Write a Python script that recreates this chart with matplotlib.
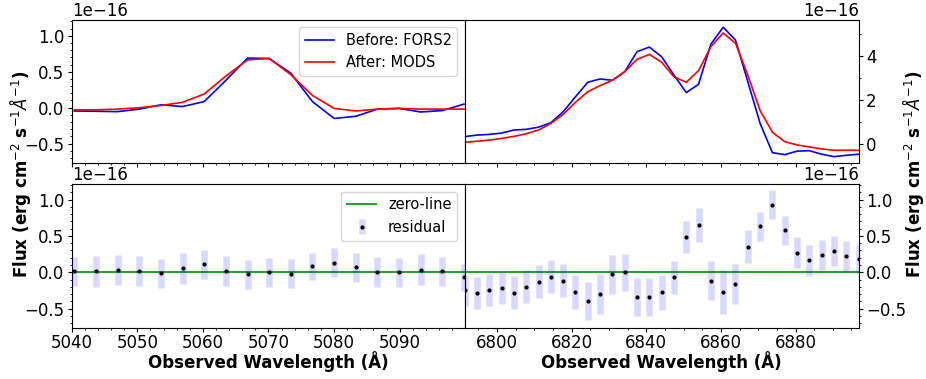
import numpy as np
import matplotlib.pyplot as plt
from matplotlib.ticker import MultipleLocator

SCALE = 1e-16

# wavelength grids (Angstrom)
wave_left = [5040.4, 5043.7, 5047.0, 5050.3, 5053.6, 5056.9, 5060.2, 5063.5,
             5066.8, 5070.1, 5073.4, 5076.7, 5080.0, 5083.3, 5086.6, 5089.9,
             5093.2, 5096.5, 5099.8]
wave_right = [6791.3, 6794.6, 6797.9, 6801.2, 6804.5, 6807.8, 6811.1, 6814.4,
              6817.7, 6821.0, 6824.3, 6827.6, 6830.9, 6834.2, 6837.5, 6840.8,
              6844.1, 6847.4, 6850.7, 6854.0, 6857.3, 6860.6, 6863.9, 6867.2,
              6870.5, 6873.8, 6877.1, 6880.4, 6883.7, 6887.0, 6890.3, 6893.6,
              6896.9]

# fluxes in units of 1e-16
fors2_left = [-0.046, -0.05, -0.055, -0.02, 0.04, 0.016, 0.085, 0.38, 0.69, 0.685,
              0.48, 0.085, -0.15, -0.12, -0.02, -0.01, -0.06, -0.04, 0.05]
mods_left = [-0.03, -0.03, -0.02, 0.0, 0.03, 0.075, 0.19, 0.44, 0.665, 0.685,
             0.46, 0.17, -0.01, -0.046, -0.02, -0.01, -0.02, -0.02, -0.02]

fors2_right = [0.35, 0.42, 0.45, 0.51, 0.65, 0.68, 0.78, 0.98, 1.48, 2.16, 2.82,
               2.97, 2.91, 3.30, 4.21, 4.42, 3.98, 3.15, 2.35, 2.73, 4.55, 5.32,
               4.74, 2.85, 0.95, -0.38, -0.47, -0.31, -0.29, -0.45, -0.56, -0.50,
               -0.45]
mods_right = [0.09, 0.14, 0.19, 0.27, 0.36, 0.48, 0.65, 0.95, 1.36, 1.91, 2.39,
              2.67, 2.91, 3.30, 3.86, 4.09, 3.73, 3.07, 2.82, 3.35, 4.44, 5.06,
              4.59, 3.15, 1.53, 0.55, 0.12, -0.03, -0.12, -0.21, -0.27, -0.27,
              -0.27]

resid_left = [0.014, 0.014, 0.03, 0.02, -0.015, 0.055, 0.11, 0.02, -0.03, 0.0,
              -0.02, 0.08, 0.13, 0.07, 0.005, 0.0, 0.035, 0.014, -0.07]
err_left = [0.20, 0.21, 0.21, 0.21, 0.20, 0.21, 0.20, 0.21, 0.20, 0.20,
            0.20, 0.19, 0.20, 0.20, 0.21, 0.20, 0.21, 0.20, 0.19]

resid_right = [-0.25, -0.285, -0.25, -0.22, -0.28, -0.2, -0.13, -0.06, -0.115,
               -0.27, -0.40, -0.30, -0.03, 0.0, -0.34, -0.34, -0.275, -0.07, 0.49,
               0.65, -0.115, -0.275, -0.16, 0.35, 0.63, 0.93, 0.58, 0.27, 0.165,
               0.24, 0.29, 0.22, 0.18]
err_right = [0.21, 0.22, 0.22, 0.22, 0.225, 0.225, 0.225, 0.227, 0.23, 0.236,
             0.26, 0.27, 0.27, 0.257, 0.257, 0.257, 0.24, 0.23, 0.22, 0.23, 0.27,
             0.30, 0.275, 0.225, 0.2, 0.2, 0.2, 0.21, 0.21, 0.21, 0.21, 0.21, 0.2]

def sc(v):
    return np.array(v) * SCALE

fig = plt.figure(figsize=(9.26, 3.79), dpi=100)
ax_tl = fig.add_axes([0.0774, 0.5699, 0.4244, 0.3773])
ax_tr = fig.add_axes([0.5018, 0.5699, 0.4258, 0.3773])
ax_bl = fig.add_axes([0.0774, 0.1338, 0.4244, 0.3799])
ax_br = fig.add_axes([0.5018, 0.1338, 0.4258, 0.3799])

# top: spectra
ax_tl.plot(wave_left, sc(fors2_left), color="blue", lw=1.2, label="Before: FORS2")
ax_tl.plot(wave_left, sc(mods_left), color="red", lw=1.2, label="After: MODS")
ax_tr.plot(wave_right, sc(fors2_right), color="blue", lw=1.2)
ax_tr.plot(wave_right, sc(mods_right), color="red", lw=1.2)
ax_tl.legend(loc="upper right", fontsize=10.5)

# bottom: residuals
ebar = dict(fmt="k.", ms=4, ecolor=(0, 0, 1, 0.15), elinewidth=4.7, capsize=0,
            zorder=3)
for ax, w, r, e in [(ax_bl, wave_left, resid_left, err_left),
                    (ax_br, wave_right, resid_right, err_right)]:
    ax.axhline(0, color="tab:green", lw=1.5, label="zero-line", zorder=2.5)
    ax.errorbar(w, sc(r), yerr=sc(e), label="residual", **ebar)
ax_bl.legend(loc="upper right", fontsize=10.5)

for ax in (ax_tl, ax_bl):
    ax.set_xlim(5040, 5099.9)
    ax.xaxis.set_major_locator(MultipleLocator(10))
    ax.xaxis.set_minor_locator(MultipleLocator(2))
for ax in (ax_tr, ax_br):
    ax.set_xlim(6791.3, 6897.0)
    ax.xaxis.set_major_locator(MultipleLocator(20))
    ax.xaxis.set_minor_locator(MultipleLocator(5))
    ax.yaxis.tick_right()
    ax.yaxis.set_offset_position("right")

ax_tl.set_ylim(-0.77e-16, 1.22e-16)
ax_tr.set_ylim(-0.85e-16, 5.65e-16)
ax_bl.set_ylim(-0.77e-16, 1.21e-16)
ax_br.set_ylim(-0.77e-16, 1.21e-16)
for ax in (ax_tl, ax_bl, ax_br):
    ax.yaxis.set_major_locator(MultipleLocator(0.5e-16))
    ax.yaxis.set_minor_locator(MultipleLocator(0.1e-16))
ax_tr.yaxis.set_major_locator(MultipleLocator(2e-16))
ax_tr.yaxis.set_minor_locator(MultipleLocator(1e-16))

for ax in (ax_tl, ax_tr, ax_bl, ax_br):
    ax.tick_params(which="major", labelsize=12, length=2.6, pad=2.5)
    ax.tick_params(which="minor", length=1.6)
    ax.tick_params(axis="x", which="major", pad=1.5)
    ax.yaxis.get_offset_text().set_fontsize(12)
for ax in (ax_tl, ax_tr):
    ax.tick_params(labelbottom=False)

for ax in (ax_bl, ax_br):
    ax.set_xlabel("Observed Wavelength (Å)", fontsize=12, fontweight="bold",
                  labelpad=-1)

ylab = r"Flux (erg cm$^{-2}$ s$^{-1}\AA^{-1}$)"
fig.text(0.022, 0.54, ylab, rotation=90, ha="center", va="center",
         fontsize=12, fontweight="bold")
fig.text(0.986, 0.54, ylab, rotation=90, ha="center", va="center",
         fontsize=12, fontweight="bold")

fig.savefig("out.png", dpi=100)
